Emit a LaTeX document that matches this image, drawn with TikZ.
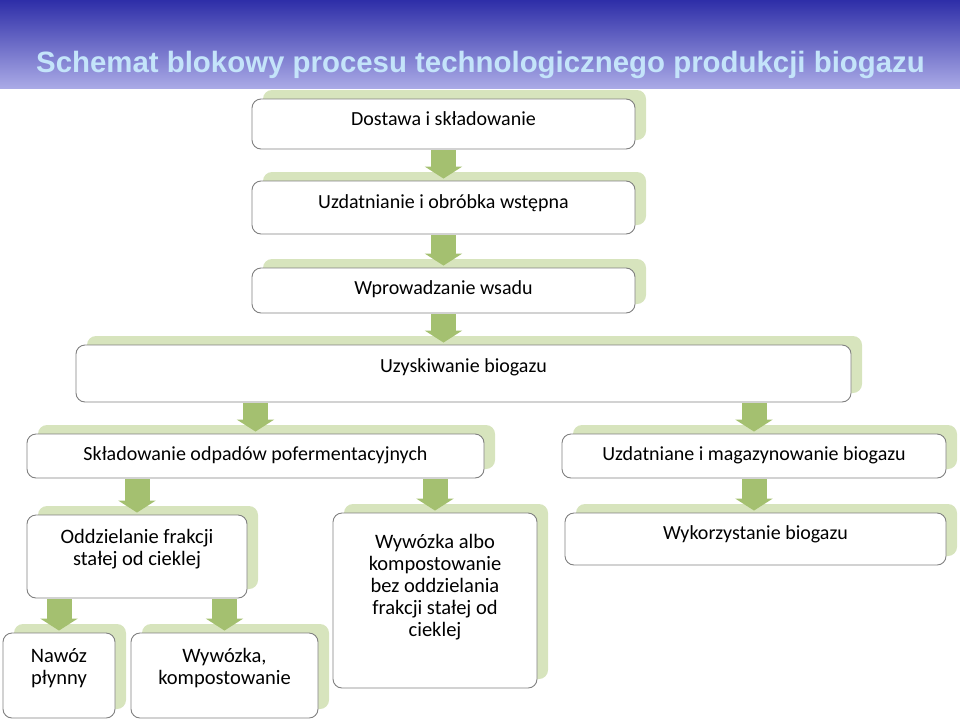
\documentclass[tikz,border=0pt]{standalone}
\usepackage{fontspec}
\setmainfont{Carlito}
\newfontfamily\titlefont{Liberation Sans}
\usetikzlibrary{arrows.meta, positioning, shadows}

\definecolor{barblue}{RGB}{46,46,168}
\definecolor{barlight}{RGB}{170,170,230}
\definecolor{titleblue}{RGB}{196,228,250}
\definecolor{boxline}{RGB}{128,128,128}
\definecolor{shadegreen}{RGB}{215,228,189}
\definecolor{flowgreen}{RGB}{164,192,112}

% text lifted above the box centre (#1 = extra depth)
\newcommand{\lift}[2]{\raisebox{0pt}[\height][\dimexpr\depth+#1\relax]{\begin{tabular}{@{}c@{}}#2\end{tabular}}}

\begin{document}
\begin{tikzpicture}[
			x=1pt, y=-1pt,
			box/.style={
				draw=boxline,
				fill=white,
				line width=0.9pt,
				rectangle,
				rounded corners=9pt,
				inner sep=0pt,
				font=\fontsize{20}{22}\selectfont,
				general shadow={fill=shadegreen, shadow xshift=11pt, shadow yshift=9pt}
			},
			bigbox/.style={box, font=\fontsize{20.5}{22}\selectfont},
			flow/.style={draw=flowgreen, line width=25pt, shorten <=1pt, shorten >=2pt,
				-{Triangle[length=12pt, width=37pt]}}
			]
			
			\useasboundingbox (0,0) rectangle (960,720);
			\shade[top color=barblue, bottom color=barlight] (0,0) rectangle (960,88);
			\node[font=\titlefont\bfseries\fontsize{29.4}{34}\selectfont, text=titleblue, anchor=base] (title) at (480.5,72) {Schemat blokowy procesu technologicznego produkcji biogazu};
			
			\node[box, minimum width=383, minimum height=50] (dost) at (443.5,124) {\lift{5pt}{Dostawa i składowanie}};
			\node[box, minimum width=383, minimum height=53] (uzd) at (443.5,207.5) {\lift{6pt}{Uzdatnianie i obróbka wstępna}};
			\node[box, minimum width=383, minimum height=45] (wpr) at (443.5,290.5) {\lift{1pt}{Wprowadzanie wsadu}};
			\node[box, minimum width=775, minimum height=57] (uzy) at (463.5,373.5) {\lift{10pt}{Uzyskiwanie biogazu}};
			\node[box, minimum width=457, minimum height=44] (skl) at (255.5,456) {\lift{0pt}{Składowanie odpadów pofermentacyjnych}};
			\node[box, minimum width=384, minimum height=44] (mag) at (754,456) {\lift{0pt}{Uzdatniane i magazynowanie biogazu}};
			\node[box, minimum width=381, minimum height=52] (wyk) at (755.5,539) {\lift{8pt}{Wykorzystanie biogazu}};
			\node[bigbox, minimum width=220, minimum height=83] (odd) at (137,556.5) {\lift{13pt}{Oddzielanie frakcji\\stałej od cieklej}};
			\node[bigbox, minimum width=204, minimum height=175] (wyw) at (435,600.5) {\lift{25pt}{Wywózka albo\\kompostowanie\\bez oddzielania\\frakcji stałej od\\cieklej}};
			\node[bigbox, minimum width=112, minimum height=85] (naw) at (59,675.5) {\lift{13pt}{Nawóz\\płynny}};
			\node[bigbox, minimum width=187, minimum height=85] (wkp) at (224.5,675.5) {\lift{13pt}{Wywózka,\\kompostowanie}};
			
			\draw[flow] (dost) -- (uzd);
			\draw[flow] (uzd) -- (wpr);
			\draw[flow] (wpr) -- (wpr |- uzy.north);
			\draw[flow] (uzy.south -| skl) -- (skl);
			\draw[flow] (uzy.south -| mag) -- (mag);
			\draw[flow] (mag) -- (mag |- wyk.north);
			\draw[flow] (skl.south -| odd) -- (odd);
			\draw[flow] (skl.south -| wyw) -- (wyw);
			\draw[flow] (odd.south -| naw) -- (naw);
			\draw[flow] (odd.south -| wkp) -- (wkp);
			
		\end{tikzpicture}
\end{document}
